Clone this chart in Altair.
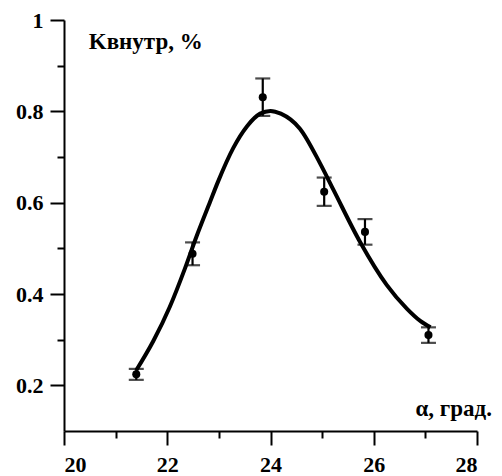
import altair as alt
import pandas as pd

# Measured points with their error half-widths
alpha = [21.40, 22.49, 23.85, 25.04, 25.83, 27.06]
k_in = [0.224, 0.488, 0.831, 0.624, 0.536, 0.310]
err = [0.012, 0.025, 0.041, 0.031, 0.028, 0.017]

# Fitted curve, sampled along its length
fit_alpha = [21.40, 21.73, 22.05, 22.34, 22.57, 22.83, 22.98, 23.28, 23.55,
             23.80, 24.00, 24.20, 24.57, 24.96, 25.22, 25.73, 26.25, 26.64,
             26.90, 27.10]
fit_k = [0.233, 0.297, 0.372, 0.455, 0.527, 0.602, 0.645, 0.720, 0.768,
         0.795, 0.801, 0.795, 0.762, 0.686, 0.628, 0.515, 0.420, 0.368,
         0.341, 0.327]

pts = pd.DataFrame({"a": alpha, "k": k_in, "err": err})
pts["lo"] = pts["k"] - pts["err"]
pts["hi"] = pts["k"] + pts["err"]
fit = pd.DataFrame({"a": fit_alpha, "k": fit_k})

labels = pd.DataFrame({
    "a": [20.48, 28.29],
    "k": [0.936, 0.132],
    "txt": ["Kвнутр, %", "α, град."],
})

FONT = "Liberation Serif"

x_scale = alt.Scale(domain=[20, 28], nice=False, zero=False)
y_scale = alt.Scale(domain=[0.1, 1.0], nice=False, zero=False)

x_axis = alt.Axis(
    values=[20, 21, 22, 23, 24, 25, 26, 27, 28],
    labelExpr="round(datum.value) % 2 == 0 ? datum.label : ''",
    tickSize=alt.ExprRef("round(datum.value) % 2 == 0 ? 14 : 7"),
    labelPadding=9,
    title=None,
    grid=False,
)
y_axis = alt.Axis(
    values=[0.2, 0.3, 0.4, 0.5, 0.6, 0.7, 0.8, 0.9, 1.0],
    labelExpr="round(datum.value * 10) % 2 == 0 ? (datum.value >= 0.99 ? '1' : format(datum.value, '.1f')) : ''",
    tickSize=alt.ExprRef("round(datum.value * 10) % 2 == 0 ? 14 : 7"),
    labelPadding=7,
    title=None,
    grid=False,
)

X = alt.X("a:Q", scale=x_scale, axis=x_axis)
Y = alt.Y("k:Q", scale=y_scale, axis=y_axis)

curve = alt.Chart(fit).mark_line(
    color="black", strokeWidth=4, interpolate="monotone"
).encode(x=X, y=Y)

bars = alt.Chart(pts).mark_rule(color="black", strokeWidth=2.2).encode(
    x=alt.X("a:Q", scale=x_scale),
    y=alt.Y("lo:Q", scale=y_scale),
    y2="hi:Q",
)

cap_lo = alt.Chart(pts).mark_tick(
    color="black", thickness=2.2, size=15, orient="horizontal"
).encode(x=alt.X("a:Q", scale=x_scale), y=alt.Y("lo:Q", scale=y_scale))

cap_hi = alt.Chart(pts).mark_tick(
    color="black", thickness=2.2, size=15, orient="horizontal"
).encode(x=alt.X("a:Q", scale=x_scale), y=alt.Y("hi:Q", scale=y_scale))

dots = alt.Chart(pts).mark_circle(color="black", size=65, opacity=1).encode(
    x=alt.X("a:Q", scale=x_scale), y=alt.Y("k:Q", scale=y_scale)
)

text_left = alt.Chart(labels.iloc[[0]]).mark_text(
    font=FONT, fontSize=23, fontWeight="bold", color="black",
    align="left", baseline="alphabetic"
).encode(x=alt.X("a:Q", scale=x_scale), y=alt.Y("k:Q", scale=y_scale), text="txt:N")

text_right = alt.Chart(labels.iloc[[1]]).mark_text(
    font=FONT, fontSize=23, fontWeight="bold", color="black",
    align="right", baseline="alphabetic"
).encode(x=alt.X("a:Q", scale=x_scale), y=alt.Y("k:Q", scale=y_scale), text="txt:N")

chart = alt.layer(curve, bars, cap_lo, cap_hi, dots, text_left, text_right).properties(
    width=413,
    height=411,
    background="white",
    autosize=alt.AutoSizeParams(type="none"),
    padding={"left": 64, "top": 20, "right": 25, "bottom": 45},
).configure_view(stroke=None).configure_axis(
    domainColor="black",
    domainWidth=2,
    tickColor="black",
    tickWidth=2,
    labelColor="black",
    labelFont=FONT,
    labelFontSize=22,
    labelFontWeight="bold",
)

chart.save("out.html", embed_options={"renderer": "svg", "actions": False})
